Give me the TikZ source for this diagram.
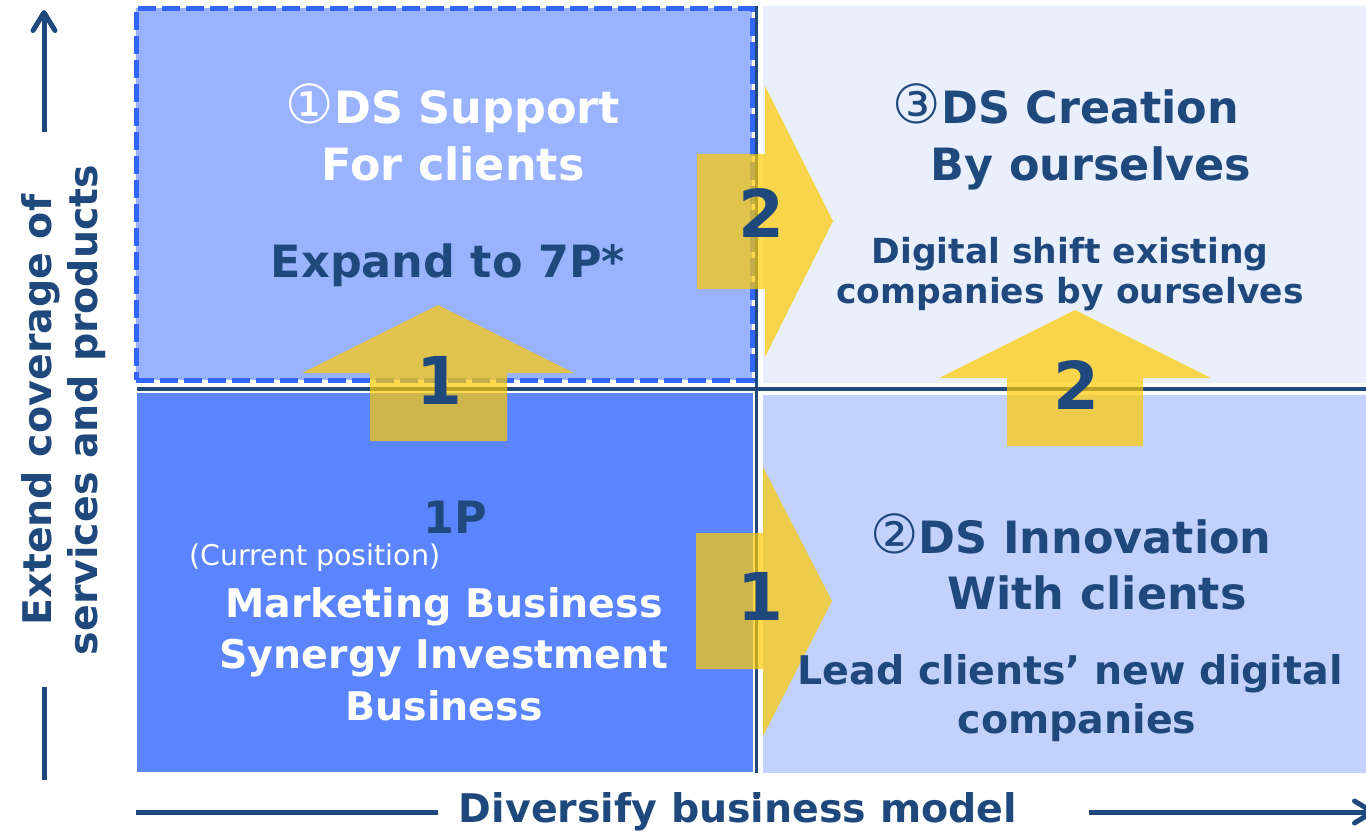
\documentclass[tikz,border=0pt]{standalone}
\usepackage{fontspec}
\setmainfont{DejaVu Sans}
\newfontfamily\circfont{DejaVu Sans}
\usetikzlibrary{arrows.meta}

\definecolor{navy}{HTML}{1F497D}
\definecolor{tlfill}{HTML}{99B3FF}
\definecolor{trfill}{HTML}{E9EFFC}
\definecolor{blfill}{HTML}{5B85FF}
\definecolor{brfill}{HTML}{C3D2FD}
\definecolor{dashblue}{HTML}{3366FF}
\definecolor{arrowyellow}{HTML}{FFCA00}

% circled step digit, set a little larger than the bold title text
\newcommand\circnum[1]{{\circfont\mdseries\fontsize{54}{50}\selectfont #1}}

\begin{document}
\begin{tikzpicture}[x=1pt,y=-1pt,
  quad/.style={inner sep=0pt, outer sep=0pt, anchor=center, draw=none},
  divider/.style={draw=navy, line width=3.5pt},
  axisline/.style={draw=navy, line width=5pt},
  axistip/.style={-{Straight Barb[length=18pt,width=22pt,round]}},
  flowarrow/.style={fill=arrowyellow, fill opacity=0.7, draw=none},
  title/.style={inner sep=0pt, anchor=base, font=\bfseries\fontsize{44.5}{50}\selectfont},
  body/.style={inner sep=0pt, anchor=base, font=\bfseries\fontsize{39.5}{46}\selectfont},
  sub/.style={inner sep=0pt, anchor=base, font=\bfseries\fontsize{34.5}{40}\selectfont},
  note/.style={inner sep=0pt, anchor=base west, text=white, font=\fontsize{28.5}{32}\selectfont},
  stepnum/.style={inner sep=0pt, anchor=center, text=navy, font=\bfseries\fontsize{66}{70}\selectfont},
  axislabel/.style={inner sep=0pt, anchor=base, text=navy, font=\bfseries\fontsize{39.5}{46}\selectfont},
]
\useasboundingbox (0,0) rectangle (1366,833);

% quadrants
\node[quad, fill=trfill, minimum width=607pt, minimum height=377pt] (tr) at (1066.5,194.5) {};
\node[quad, fill=blfill, minimum width=616pt, minimum height=379pt] (bl) at (445,582.5) {};
\node[quad, fill=brfill, minimum width=607pt, minimum height=378pt] (br) at (1066.5,584) {};
\node[quad, fill=tlfill, draw=dashblue, line width=5pt, dash pattern=on 18pt off 6pt,
      minimum width=616pt, minimum height=372pt] (tl) at (444,194) {};

% dividing lines between the quadrants
\draw[divider] (756.5,6) -- (756.5,773);
\draw[divider] (137,389) -- (1370,389);
\fill[navy] (753.5,793.5) rectangle (759,799);

% transparent step arrows
\path[flowarrow] (697,154) -- (765,154) -- (765,86) -- (833,221) -- (765,357) -- (765,289) -- (697,289) -- cycle;
\path[flowarrow] (696,533) -- (763,533) -- (763,467) -- (832,601) -- (763,736) -- (763,669) -- (696,669) -- cycle;
\path[flowarrow] (370,441) -- (370,373) -- (302,373) -- (438,305) -- (574,373) -- (507,373) -- (507,441) -- cycle;
\path[flowarrow] (1007,446) -- (1007,378) -- (939,378) -- (1075,310) -- (1211,378) -- (1143,378) -- (1143,446) -- cycle;

\node[stepnum] (nTop) at (761,213) {2};
\node[stepnum] (nBot) at (760,596) {1};
\node[stepnum] (nUpL) at (439,380) {1};
\node[stepnum] (nUpR) at (1076,385) {2};

% top-left quadrant
\node[title, text=white] (tlA) at (453,123) {\circnum{①}DS Support};
\node[title, text=white] (tlB) at (453,180) {For clients};
\node[title, text=navy]  (tlC) at (448,277) {Expand to 7P*};

% top-right quadrant
\node[title, text=navy] (trA) at (1066,123) {\circnum{③}DS Creation};
\node[title, text=navy] (trB) at (1091,180) {By ourselves};
\node[sub, text=navy]   (trC) at (1070,263) {Digital shift existing};
\node[sub, text=navy]   (trD) at (1070,303) {companies by ourselves};

% bottom-left quadrant
\node[title, text=navy] (blA) at (455,533) {1P};
\node[note] (blB) at (189,565) {(Current position)};
\node[body, text=white] (blC) at (444,617) {Marketing Business};
\node[body, text=white] (blD) at (444,668) {Synergy Investment};
\node[body, text=white] (blE) at (444,720) {Business};

% bottom-right quadrant
\node[title, text=navy] (brA) at (1071,553) {\circnum{②}DS Innovation};
\node[title, text=navy] (brB) at (1097,609) {With clients};
\node[body, text=navy]  (brC) at (1070,684) {Lead clients’ new digital};
\node[body, text=navy]  (brD) at (1077,733) {companies};

% vertical axis
\coordinate (yTop) at (44,132);
\coordinate (yTip) at (44,10);
\coordinate (yLow) at (44,687);
\coordinate (yEnd) at (44,780);
\draw[axisline, axistip] (yTop) -- (yTip);
\draw[axisline] (yLow) -- (yEnd);
\node[axislabel, rotate=90] (yLabA) at (51,410) {Extend coverage of};
\node[axislabel, rotate=90] (yLabB) at (97,410) {services and products};

% horizontal axis
\coordinate (xStart) at (136,812);
\coordinate (xGapL) at (438,812);
\coordinate (xGapR) at (1089,812);
\coordinate (xTip) at (1375,812);
\draw[axisline] (xStart) -- (xGapL);
\draw[axisline, axistip] (xGapR) -- (xTip);
\node[axislabel] (xLab) at (738,822) {Diversify business model};
\end{tikzpicture}
\end{document}
